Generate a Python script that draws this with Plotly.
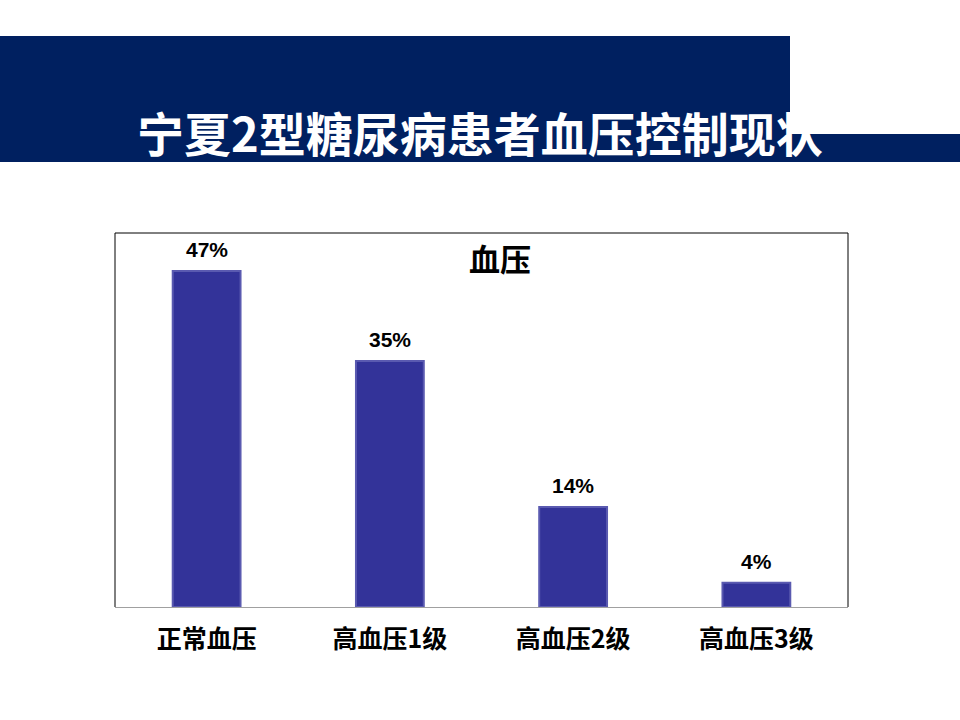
import plotly.graph_objects as go

categories = ["正常血压", "高血压1级", "高血压2级", "高血压3级"]
values = [47, 34.4, 14, 3.4]
value_labels = ["47%", "35%", "14%", "4%"]
page_title = "宁夏2型糖尿病患者血压控制现状"
chart_title = "血压"

W, H = 960, 720
L, R, T, B = 115, 848, 233, 607

def px(x):
    return (x - L) / (R - L)

def py(y):
    return (B - y) / (B - T)

CJK = "Noto Sans CJK SC"
BAR = "#333399"

fig = go.Figure()
fig.add_trace(go.Bar(
    x=categories, y=values,
    marker=dict(color=BAR, line=dict(color="#5a5ab0", width=2)),
    width=0.37, cliponaxis=False,
))

shapes = [
    dict(type="rect", xref="paper", yref="paper", x0=px(0), x1=px(960), y0=py(162), y1=py(36),
         fillcolor="#002060", line=dict(width=0), layer="below"),
    dict(type="rect", xref="paper", yref="paper", x0=px(790), x1=px(962), y0=py(134), y1=py(34),
         fillcolor="white", line=dict(width=0), layer="below"),
    dict(type="path", xref="paper", yref="paper",
         path="M 0 0 L 0 1 L 1 1 L 1 0", line=dict(color="black", width=1)),
]

annotations = [
    dict(text=page_title, xref="paper", yref="paper", x=px(480), y=py(131),
         xanchor="center", yanchor="middle", showarrow=False,
         font=dict(family=CJK, size=47, color="white", weight="bold")),
    dict(text=chart_title, xref="paper", yref="paper", x=px(500), y=py(257),
         xanchor="center", yanchor="middle", showarrow=False,
         font=dict(family=CJK, size=31, color="black", weight="bold")),
]
for c, v, t in zip(categories, values, value_labels):
    annotations.append(dict(text=t, x=c, y=v, xref="x", yref="y", xanchor="center",
                            yanchor="bottom", yshift=8, showarrow=False,
                            font=dict(family="Liberation Sans, Arial", size=21,
                                      color="black", weight="bold")))

fig.update_layout(
    width=W, height=H,
    margin=dict(l=L, r=W - R, t=T, b=H - B),
    paper_bgcolor="white", plot_bgcolor="white",
    showlegend=False,
    shapes=shapes,
    xaxis=dict(range=[-0.5, 3.5], showline=True, linecolor="#a0a0a0", linewidth=1,
               ticks="", tickfont=dict(family=CJK, size=25, color="black", weight="bold"),
               ticklabelstandoff=10, showgrid=False, fixedrange=True),
    yaxis=dict(range=[0, 52.3], visible=False, showgrid=False, fixedrange=True),
    annotations=annotations,
)

fig.write_html("out.html", config={"displayModeBar": False},
               post_script="document.body.style.margin='0';")
